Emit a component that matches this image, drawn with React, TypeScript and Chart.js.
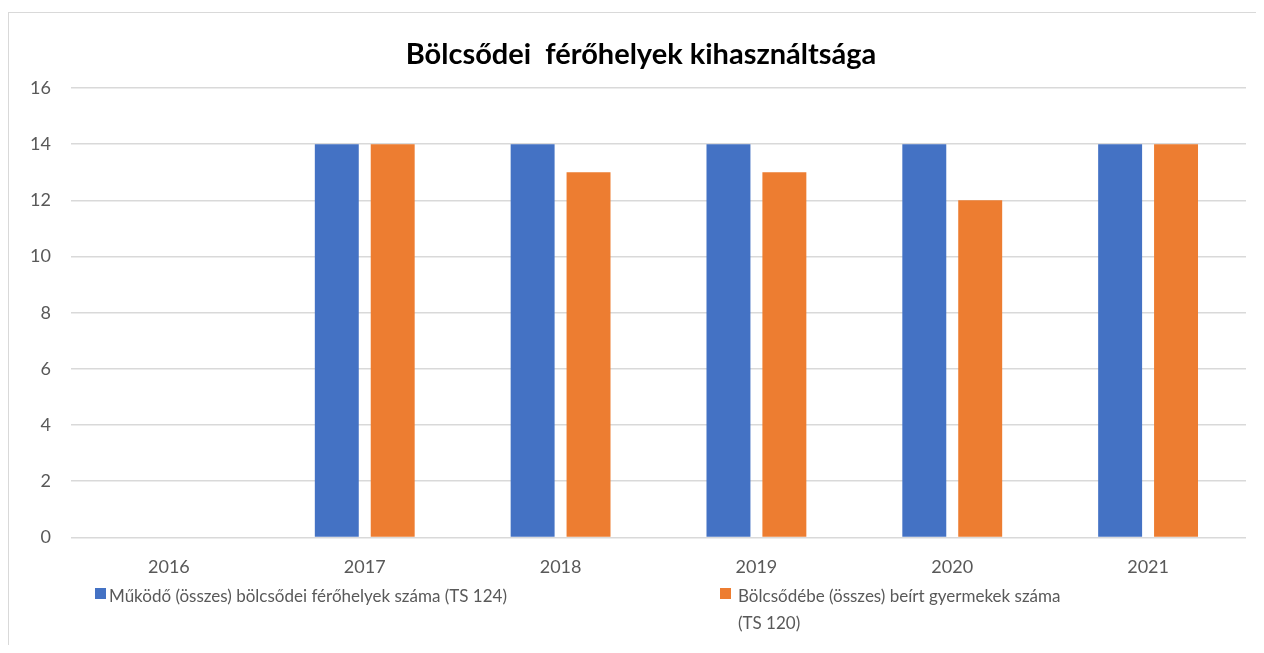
import React, { useEffect, useRef } from "react";
import { Chart, registerables } from "chart.js";

Chart.register(...registerables);

const TITLE = "Bölcsődei  férőhelyek kihasználtsága";
const YEARS = ["2016", "2017", "2018", "2019", "2020", "2021"];
const SERIES1_LABEL = "Működő (összes) bölcsődei férőhelyek száma (TS 124)";
const SERIES1 = [null, 14, 14, 14, 14, 14];
const SERIES2_LABEL = "Bölcsődébe (összes) beírt gyermekek száma (TS 120)";
const SERIES2 = [null, 14, 13, 13, 12, 14];
const Y_TICKS = { min: 0, max: 16, step: 2 };

const BLUE = "#4472C4";
const ORANGE = "#ED7D31";
const FONT = "Lato, 'Open Sans', sans-serif";
const TEXT = "#595959";

export default function App() {
  const ref = useRef<HTMLCanvasElement | null>(null);

  useEffect(() => {
    if (!ref.current) return;
    const chart = new Chart(ref.current, {
      type: "bar",
      data: {
        labels: YEARS,
        datasets: [
          { label: SERIES1_LABEL, data: SERIES1 as any, backgroundColor: BLUE, barPercentage: 0.786, categoryPercentage: 0.571 },
          { label: SERIES2_LABEL, data: SERIES2 as any, backgroundColor: ORANGE, barPercentage: 0.786, categoryPercentage: 0.571 },
        ],
      },
      options: {
        responsive: false,
        animation: false,
        layout: { padding: { left: 0, right: 0, top: 0, bottom: 16 } },
        plugins: {
          legend: { display: false },
          tooltip: { enabled: false },
          title: {
            display: true,
            text: TITLE,
            color: "#000",
            font: { family: FONT, size: 29, weight: "bold" },
            padding: { top: 24.6, bottom: 15.6 },
          },
        },
        scales: {
          x: {
            grid: { display: false, drawTicks: false },
            border: { display: false },
            ticks: { color: TEXT, font: { family: FONT, size: 18 }, padding: 19 },
          },
          y: {
            min: Y_TICKS.min,
            max: Y_TICKS.max,
            afterFit: (s: any) => { s.width = 62; },
            grid: { color: "#d9d9d9", lineWidth: 1.5, drawTicks: false },
            border: { display: false },
            ticks: { stepSize: Y_TICKS.step, color: TEXT, font: { family: FONT, size: 18 }, padding: 20 },
          },
          yRight: {
            type: "linear",
            position: "right",
            min: Y_TICKS.min,
            max: Y_TICKS.max,
            afterFit: (s: any) => { s.width = 27; },
            grid: { display: false, drawTicks: false },
            border: { display: false },
            ticks: { display: false },
          },
        },
      },
    });
    return () => chart.destroy();
  }, []);

  const legendText: React.CSSProperties = {
    position: "absolute",
    fontFamily: FONT,
    fontSize: 17,
    lineHeight: "27px",
    color: TEXT,
  };
  const sq: React.CSSProperties = { position: "absolute", width: 11, height: 11 };

  return (
    <div style={{ width: 1256, height: 637, overflow: "hidden", paddingTop: 4, boxSizing: "border-box" }}>
      <div style={{ position: "relative", border: "1px solid #d9d9d9", width: 1300, height: 700 }}>
        <canvas ref={ref} width={1264} height={600} style={{ display: "block" }} />
        <div style={{ ...sq, left: 86, top: 575, background: BLUE }} />
        <div style={{ ...legendText, left: 100, top: 569, whiteSpace: "nowrap" }}>{SERIES1_LABEL}</div>
        <div style={{ ...sq, left: 711, top: 575, background: ORANGE }} />
        <div style={{ ...legendText, left: 729, top: 569, width: 340 }}>{SERIES2_LABEL}</div>
      </div>
    </div>
  );
}
